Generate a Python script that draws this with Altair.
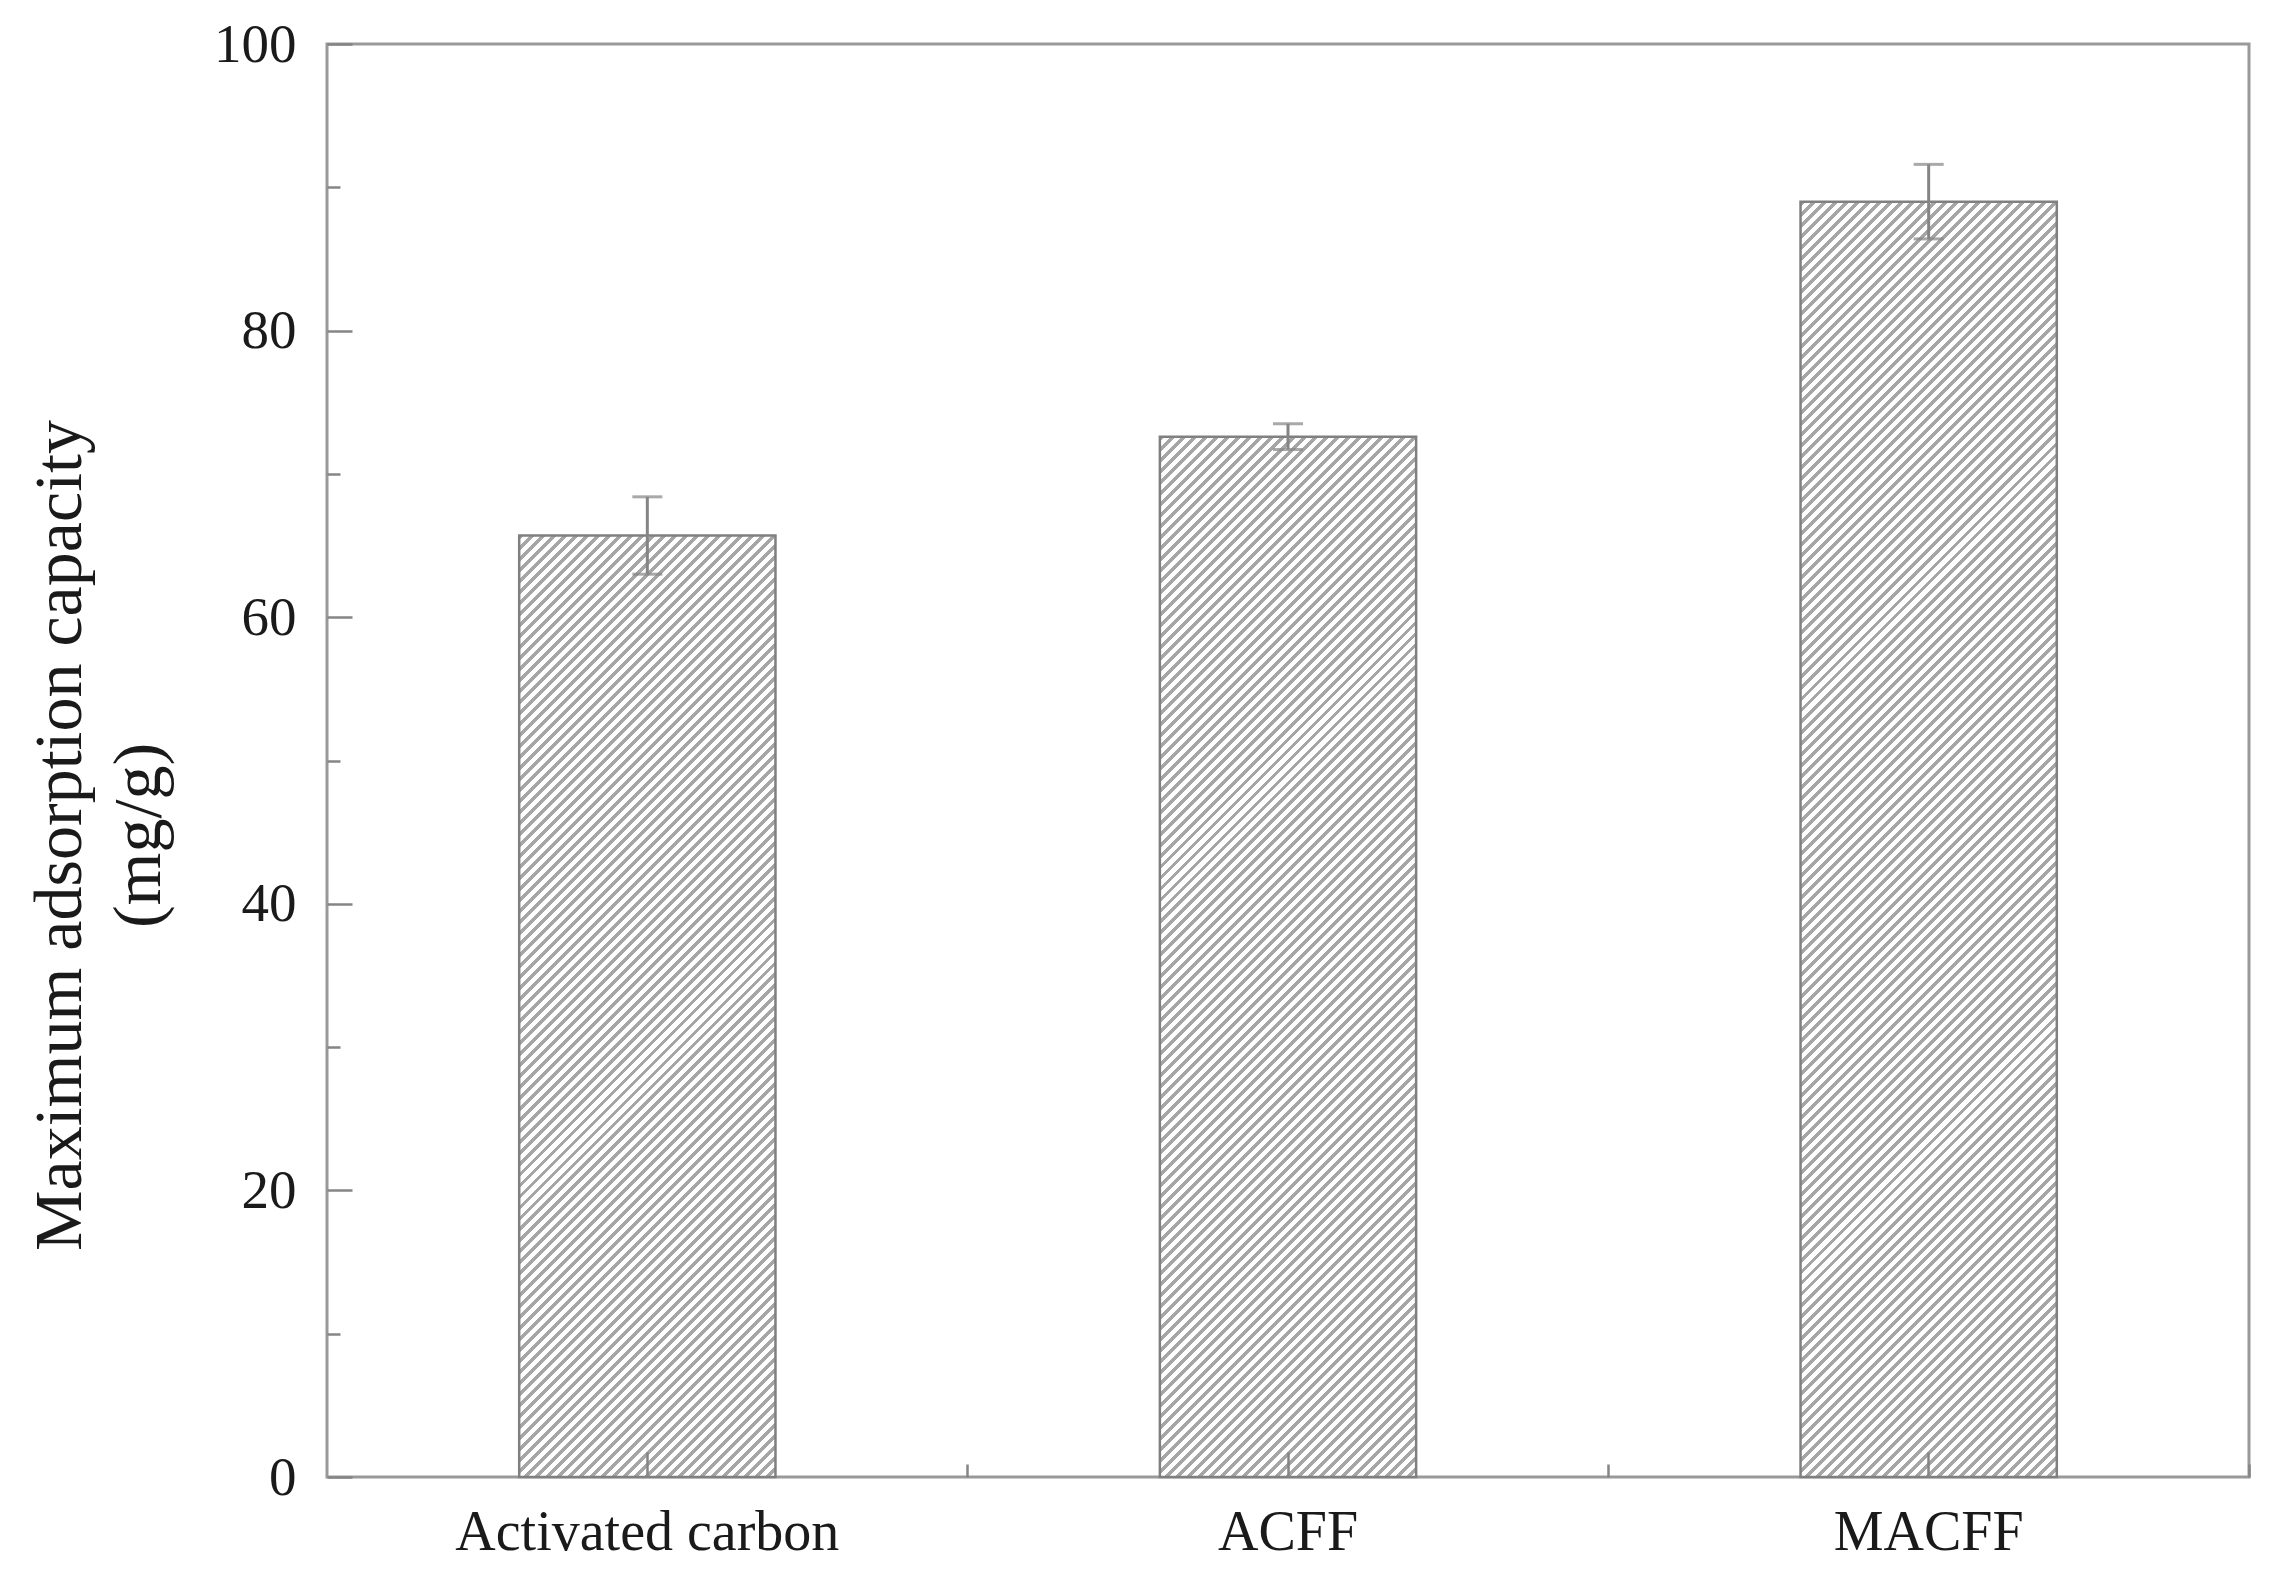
import altair as alt
import pandas as pd

# ---- data ----
categories = ["Activated carbon", "ACFF", "MACFF"]
capacity = [65.7, 72.6, 89.0]
capacity_err = [2.7, 0.9, 2.6]
y_major_ticks = [0, 20, 40, 60, 80, 100]
y_minor_ticks = [10, 30, 50, 70, 90]
y_title = ["Maximum adsorption capacity", "(mg/g)"]

df = pd.DataFrame({"material": categories, "capacity": capacity, "err": capacity_err})

# ---- layout / style ----
W, H = 1922, 1433
PAD_INNER, PAD_OUTER = 0.6, 0.3
Y_MAX = 100
FONT = "Liberation Serif"
TEXT = "#1a1a1a"
TICK = "#858585"
FRAME = "#999999"

step = W / (len(categories) - PAD_INNER + 2 * PAD_OUTER)
band = step * (1 - PAD_INNER)


def hatch(value, period=11.0, frac=0.45, line="#a6a6a6", bg="#ffffff"):
    """Diagonal '/' hatching as a striped linear gradient for a bar of given value."""
    w = band
    h = value / Y_MAX * H
    r = h / w
    dx = (1 + r) / (1 + r * r)
    dy = r * dx
    n = max(1, round((w + h) / period))
    stops = []
    for k in range(n):
        a, b, c = k / n, (k + frac) / n, (k + 1) / n
        stops += [
            alt.GradientStop(color=line, offset=a),
            alt.GradientStop(color=line, offset=b),
            alt.GradientStop(color=bg, offset=b),
            alt.GradientStop(color=bg, offset=min(c, 1.0)),
        ]
    return alt.LinearGradient(gradient="linear", stops=stops, x1=0, y1=0, x2=dx, y2=dy)


x_scale = alt.Scale(domain=categories, paddingInner=PAD_INNER, paddingOuter=PAD_OUTER)
y_scale = alt.Scale(domain=[0, Y_MAX], nice=False)

x_major_axis = alt.Axis(
    orient="bottom", offset=-25, tickSize=25, tickColor=TICK, tickWidth=2.5,
    domain=False, grid=False, labelFont=FONT, labelFontSize=56, labelColor=TEXT,
    labelPadding=28, labelAngle=0, labelLimit=1000, title="", zindex=1,
)
y_major_axis = alt.Axis(
    orient="left", values=y_major_ticks, offset=-25, tickSize=25, tickColor=TICK,
    tickWidth=2.5, domain=False, grid=False, labelFont=FONT, labelFontSize=55,
    labelColor=TEXT, labelPadding=31, title=y_title, titleFont=FONT,
    titleFontSize=68, titleFontWeight="normal", titleColor=TEXT, titleAngle=270,
    titleAlign="center", titleBaseline="alphabetic", titleLineHeight=79,
    titleX=-272, titleY=791, titleLimit=2000, zindex=1,
)
x_minor_axis = alt.Axis(
    orient="bottom", offset=-13, tickSize=13, tickColor=TICK, tickWidth=2.5,
    bandPosition=1.75, domain=False, grid=False, labels=False, title="", zindex=1,
)
y_minor_axis = alt.Axis(
    orient="left", values=y_minor_ticks, offset=-13, tickSize=13, tickColor=TICK,
    tickWidth=2.5, domain=False, grid=False, labels=False, title="", zindex=1,
)

base = alt.Chart(df)

layers = []
for i, (cat, val) in enumerate(zip(categories, capacity)):
    layers.append(
        base.transform_filter(alt.datum.material == cat)
        .mark_bar(color=hatch(val), stroke="#808080", strokeWidth=2.5)
        .encode(
            x=alt.X("material:N", scale=x_scale, sort=categories,
                    axis=x_major_axis if i == 0 else None),
            y=alt.Y("capacity:Q", scale=y_scale,
                    axis=y_major_axis if i == 0 else None),
        )
    )

err_base = base.transform_calculate(
    lo="datum.capacity - datum.err", hi="datum.capacity + datum.err"
)
layers.append(
    err_base.mark_rule(color=TICK, strokeWidth=3).encode(
        x=alt.X("material:N", scale=x_scale, sort=categories, axis=None),
        y=alt.Y("lo:Q", scale=y_scale, axis=None),
        y2="hi:Q",
    )
)
for fld in ["lo", "hi"]:
    layers.append(
        err_base.mark_tick(color=TICK, size=30, thickness=3).encode(
            x=alt.X("material:N", scale=x_scale, sort=categories, axis=None),
            y=alt.Y(f"{fld}:Q", scale=y_scale, axis=None),
        )
    )

# invisible layer carrying the minor tick axes
layers.append(
    base.mark_point(opacity=0).encode(
        x=alt.X("material:N", scale=x_scale, sort=categories, axis=x_minor_axis),
        y=alt.Y("capacity:Q", scale=y_scale, axis=y_minor_axis),
    )
)

chart = (
    alt.layer(*layers)
    .resolve_axis(x="independent", y="independent")
    .properties(
        width=W, height=H,
        autosize=alt.AutoSizeParams(type="none"),
        padding={"left": 319, "top": 36, "right": 16, "bottom": 96},
    )
    .configure_view(stroke=FRAME, strokeWidth=3)
)

chart.save("out.html", embed_options={"renderer": "svg", "actions": False})
